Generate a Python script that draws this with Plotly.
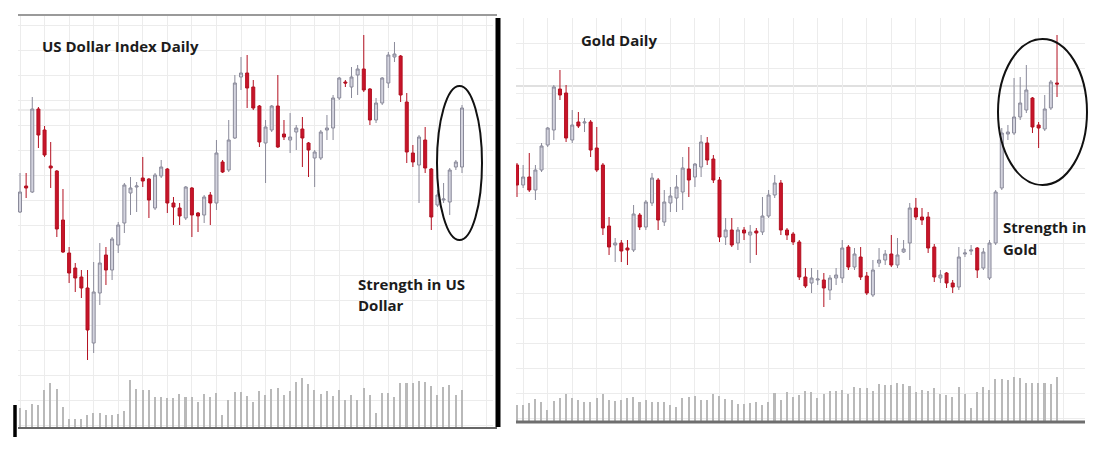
import plotly.graph_objects as go

W, H = 1099, 454

# ---------------- US Dollar Index (daily) ----------------
usd_open = [238,264,258,341,320,284,279,230,197,182,
            173,162,107,157,195,180,205,227,257,263,
            272,271,242,274,281,247,242,232,262,237,
            235,255,247,288,280,312,373,377,363,344,
            307,320,344,316,310,318,321,307,292,292,
            320,322,352,368,363,375,381,361,330,347,
            367,393,394,348,297,285,310,281,245,250,
            248,283,283]
usd_high = [277,277,353,343,324,308,280,261,203,187,
            180,180,188,207,203,213,228,267,273,268,
            293,272,277,290,282,253,247,264,263,238,
            255,258,310,290,330,375,393,395,370,345,
            330,345,375,330,337,325,333,308,300,320,
            335,355,373,370,383,385,415,362,352,373,
            398,408,395,357,305,315,323,282,260,267,
            282,290,345]
usd_low = [237,252,257,302,293,262,213,197,167,158,
           152,90,97,145,165,170,197,217,235,238,
           263,232,240,272,237,225,225,230,213,218,
           227,225,240,277,278,311,360,342,340,303,
           267,318,302,310,297,300,283,273,263,290,
           310,310,350,363,352,355,358,325,327,345,
           362,388,348,287,283,247,277,220,243,247,
           235,280,277]
usd_close = [258,262,341,315,295,282,221,198,177,172,
             162,120,158,187,180,211,225,265,262,264,
             269,250,275,283,247,243,234,263,235,234,
             253,247,297,278,310,367,377,362,342,308,
             323,344,303,313,313,322,312,300,298,318,
             322,352,372,367,373,381,360,330,347,372,
             395,396,355,298,288,313,282,233,255,251,
             280,288,342]
usd_volume = [20,18,24,23,38,45,39,21,9,9,
              9,13,15,15,13,13,14,17,48,39,
              38,38,31,31,30,30,34,31,31,26,
              34,31,35,13,28,36,36,32,26,37,
              33,39,40,33,37,46,50,44,38,34,
              37,32,38,28,33,28,40,33,15,35,
              35,31,45,45,45,47,46,42,33,41,
              43,33,38]

# ---------------- Gold (daily) ----------------
gold_open = [285,265,273,260,280,305,320,361,357,310,
             328,327,328,302,285,224,205,207,202,200,
             235,223,247,270,228,247,252,258,281,273,
             283,307,291,270,213,220,207,220,215,219,
             218,234,255,267,220,216,208,173,167,170,
             170,160,172,172,203,183,193,174,155,187,
             190,196,185,198,207,242,233,233,203,172,
             177,167,163,196,199,202,182,172,207,262,
             316,317,333,340,352,325,321,342,367]
gold_high = [287,285,297,285,307,323,365,380,365,340,
             338,332,330,323,287,233,212,210,210,245,
             237,250,277,272,260,263,275,293,303,287,
             315,313,295,273,232,232,223,223,225,222,
             253,260,275,270,222,218,210,182,182,180,
             177,175,182,210,205,202,203,178,190,202,
             200,215,212,210,247,252,242,238,206,180,
             178,170,203,201,205,203,202,210,260,322,
             325,372,373,385,353,328,355,370,415]
gold_low = [253,262,258,250,278,303,310,350,308,307,
            322,318,293,278,215,195,188,188,185,198,
            220,220,244,220,224,238,238,240,253,263,
            273,285,267,208,205,203,200,210,187,195,
            215,232,252,215,210,205,170,162,157,165,
            143,150,165,167,180,180,170,155,153,183,
            185,183,182,197,190,230,225,197,168,167,
            162,157,160,193,195,172,180,170,205,260,
            310,315,330,337,317,302,319,340,353]
gold_close = [265,273,260,280,304,322,363,355,312,325,
              324,328,300,280,222,203,207,199,200,236,
              223,248,272,230,248,254,263,282,270,286,
              308,290,270,213,220,205,220,217,218,217,
              234,255,267,220,215,208,173,164,172,171,
              162,172,175,202,183,196,173,157,180,190,
              196,185,195,201,242,233,230,202,173,175,
              167,163,193,197,200,180,198,207,258,317,
              318,333,347,360,323,322,341,368,366]
gold_volume = [17,17,19,23,20,12,21,24,28,24,
               22,20,20,24,28,22,21,22,24,25,
               20,22,20,20,20,17,15,24,25,26,
               22,22,28,26,23,22,18,18,19,20,
               17,20,29,22,30,25,27,31,30,24,
               28,31,31,32,28,35,34,34,31,38,
               37,37,39,38,36,30,32,31,34,28,
               27,25,35,28,14,30,35,32,43,43,
               42,45,44,39,39,39,39,38,45]

usd_x = list(range(len(usd_close)))
gold_x = list(range(len(gold_close)))

UP_FILL, UP_LINE = "#d3d3de", "#8a8a9a"
DN_FILL, DN_LINE = "#c8142a", "#b31020"
VOL = "#b9b9b9"
GRID = "#ececec"
FONT = "Open Sans"


def px(x):
    return x / W


def py(y):
    return 1 - y / H


def candle(x, o, h, l, c, xa, ya):
    return go.Candlestick(
        x=x, open=o, high=h, low=l, close=c, xaxis=xa, yaxis=ya,
        increasing=dict(line=dict(color=UP_LINE, width=1), fillcolor=UP_FILL),
        decreasing=dict(line=dict(color=DN_LINE, width=1), fillcolor=DN_FILL),
        whiskerwidth=0, showlegend=False, hoverinfo="skip")


fig = go.Figure()
fig.add_trace(candle(usd_x, usd_open, usd_high, usd_low, usd_close, "x", "y"))
fig.add_trace(go.Bar(x=usd_x, y=usd_volume, xaxis="x", yaxis="y2", width=0.25,
                     marker=dict(color=VOL, line=dict(width=0)), showlegend=False))
fig.add_trace(candle(gold_x, gold_open, gold_high, gold_low, gold_close, "x2", "y3"))
fig.add_trace(go.Bar(x=gold_x, y=gold_volume, xaxis="x2", yaxis="y4", width=0.25,
                     marker=dict(color=VOL, line=dict(width=0)), showlegend=False))

ax_common = dict(showticklabels=False, ticks="", zeroline=False, showline=False,
                 gridcolor=GRID, gridwidth=1, fixedrange=True)

# panel pixel frames
L0, L1, LT, LB = 18, 493, 15, 428
R0, R1, RT, RB = 516, 1085, 18, 422
sp = 6.14

fig.update_layout(
    width=W, height=H, margin=dict(l=0, r=0, t=0, b=0),
    paper_bgcolor="white", plot_bgcolor="white", boxgap=0.3,
    bargap=0,
    xaxis=dict(domain=[px(L0), px(L1)], range=[-(20 - L0) / sp, 72 + (L1 - 462) / sp],
               tick0=0, dtick=4, showgrid=True, anchor="y",
               rangeslider=dict(visible=False), **ax_common),
    yaxis=dict(domain=[py(LB), py(LT)], range=[450 - LB, 450 - LT], tick0=0, dtick=25,
               showgrid=True, anchor="x", **ax_common),
    yaxis2=dict(overlaying="y", range=[0, LB - LT], showgrid=False, anchor="x", **ax_common),
    xaxis2=dict(domain=[px(R0), px(R1)], range=[-(517 - R0) / sp, 88 + (R1 - 1057) / sp],
                tick0=1, dtick=4, showgrid=True, anchor="y3",
                rangeslider=dict(visible=False), **ax_common),
    yaxis3=dict(domain=[py(RB), py(RT)], range=[450 - RB, 450 - RT], tick0=7, dtick=25,
                showgrid=True, anchor="x2", **ax_common),
    yaxis4=dict(overlaying="y3", range=[0, RB - RT], showgrid=False, anchor="x2", **ax_common),
)

shapes = []


def hline(x0, x1, y, color, width):
    shapes.append(dict(type="line", xref="paper", yref="paper", x0=px(x0), x1=px(x1),
                       y0=py(y), y1=py(y), line=dict(color=color, width=width)))


def vline(x, y0, y1, color, width):
    shapes.append(dict(type="line", xref="paper", yref="paper", x0=px(x), x1=px(x),
                       y0=py(y0), y1=py(y1), line=dict(color=color, width=width)))


# slightly stronger reference lines
shapes.append(dict(type="line", xref="paper", yref="y", x0=px(L0), x1=px(490), y0=340, y1=340,
                   line=dict(color="#dadada", width=1), layer="below"))
shapes.append(dict(type="line", xref="paper", yref="y3", x0=px(R0), x1=px(R1), y0=364, y1=364,
                   line=dict(color="#d6d6d6", width=1.5), layer="below"))

hline(L0, 497, LT, "#9a9a9a", 2)
hline(L0, 497, LB, "#666666", 2)
hline(R0, R1, RB, "#6e6e6e", 3)
vline(498, 18, 427, "#000000", 5)
vline(15, 405, 437, "#000000", 3.5)

# ellipses
shapes.append(dict(type="circle", xref="paper", yref="paper", x0=px(437), x1=px(482),
                   y0=py(240), y1=py(86), line=dict(color="#111111", width=2)))
shapes.append(dict(type="circle", xref="paper", yref="paper", x0=px(998), x1=px(1087),
                   y0=py(185), y1=py(39), line=dict(color="#111111", width=2)))
fig.update_layout(shapes=shapes)


def label(text, x, y, size=15):
    fig.add_annotation(text=text, xref="paper", yref="paper", x=px(x), y=py(y),
                       xanchor="left", yanchor="middle", showarrow=False,
                       font=dict(family=FONT, size=size, color="#1c1c1c", weight=700))


label("US Dollar Index Daily", 40, 46)
label("Gold Daily", 579, 40)
label("Strength in US", 356, 284)
label("Dollar", 356, 305)
label("Strength in", 1001, 227)
label("Gold", 1001, 249)

fig.write_html("out.html", config={"displayModeBar": False},
               post_script="document.body.style.margin='0px';")
